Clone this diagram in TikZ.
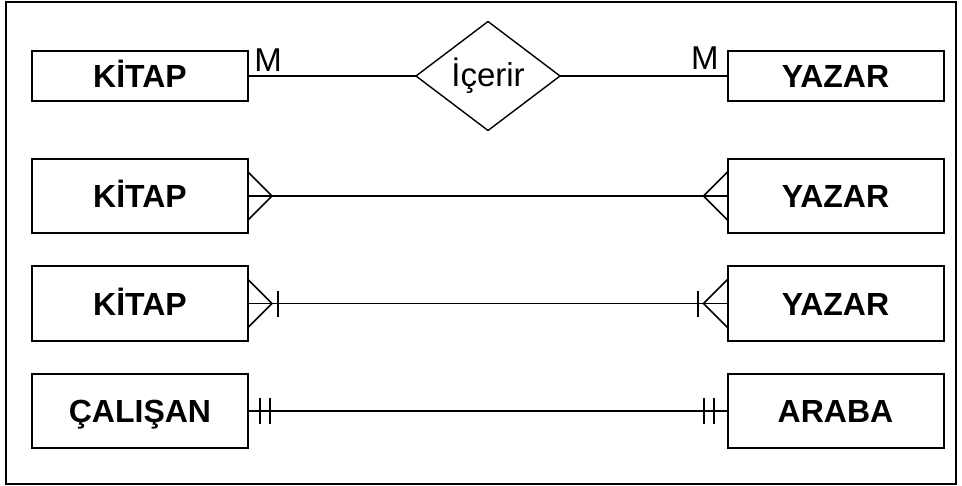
\documentclass[tikz,border=0pt]{standalone}
\usepackage{fontspec}
\setmainfont{Liberation Sans}
\usepackage{tikz}
\usetikzlibrary{shapes.geometric}
\tikzset{
  entity/.style={
    draw, line width=1pt, minimum width=108pt, inner sep=0pt, outer sep=0pt,
    text height=11.5pt, text depth=0pt,
    font=\bfseries\fontsize{16}{19}\selectfont},
  relation/.style={
    diamond, draw, line width=0.7pt, minimum width=72pt, minimum height=45.5pt,
    inner sep=0pt, outer sep=0pt, font=\fontsize{16.5}{19}\selectfont},
  card/.style={inner sep=0pt, font=\fontsize{16.5}{19}\selectfont},
  link/.style={line width=0.75pt},
  bar/.style={line width=1pt},
  frame/.style={line width=1pt},
}
\begin{document}
\begin{tikzpicture}[x=0.5pt, y=-0.5pt]
  \useasboundingbox (0,0) rectangle (962,486);
  \draw[frame] (6,2) rectangle (956,484);

  \node[entity, minimum height=25pt] (kitap1) at (140,76) {KİTAP};
  \node[entity, minimum height=25pt] (yazar1) at (835.5,76) {YAZAR};
  \node[relation] (icerir) at (488,76) {İçerir};
  \node[card, anchor=base west] (m1) at (254,72) {M};
  \node[card, anchor=base east] (m2) at (719,70) {M};

  \node[entity, minimum height=37pt] (kitap2) at (140,196) {KİTAP};
  \node[entity, minimum height=37pt] (yazar2) at (835.5,196) {YAZAR};

  \node[entity, minimum height=37.5pt] (kitap3) at (140,303.5) {KİTAP};
  \node[entity, minimum height=37.5pt] (yazar3) at (835.5,303.5) {YAZAR};

  \node[entity, minimum height=37pt] (calisan) at (140,411) {ÇALIŞAN};
  \node[entity, minimum height=37pt] (araba) at (835.5,411) {ARABA};

  \draw[link] (kitap1.east) -- (icerir.west);
  \draw[link] (icerir.east) -- (yazar1.west);

  \draw[link] (kitap2.east) -- (yazar2.west);
  \draw[link] (kitap2.east) ++(0,-24) -- ++(24,24) -- ++(-24,24);
  \draw[link] (yazar2.west) ++(0,-24) -- ++(-24,24) -- ++(24,24);

  \draw[link] (kitap3.east) -- (yazar3.west);
  \draw[link] (kitap3.east) ++(0,-24) -- ++(24,24) -- ++(-24,24);
  \draw[link] (yazar3.west) ++(0,-24) -- ++(-24,24) -- ++(24,24);
  \draw[bar] (kitap3.east) ++(30,-13) -- ++(0,26);
  \draw[bar] (yazar3.west) ++(-30,-13) -- ++(0,26);

  \draw[link] (calisan.east) -- (araba.west);
  \draw[bar] (calisan.east) ++(12,-13) -- ++(0,26);
  \draw[bar] (calisan.east) ++(22,-13) -- ++(0,26);
  \draw[bar] (araba.west) ++(-14,-13) -- ++(0,26);
  \draw[bar] (araba.west) ++(-24,-13) -- ++(0,26);
\end{tikzpicture}
\end{document}
